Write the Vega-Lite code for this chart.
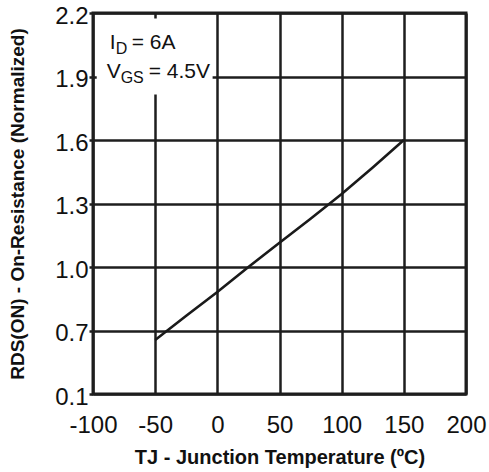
{
  "$schema": "https://vega.github.io/schema/vega-lite/v6.json",
  "width": 373,
  "height": 381,
  "autosize": {"type": "none"},
  "padding": {"left": 93, "top": 13, "right": 23, "bottom": 78},
  "background": "white",
  "config": {
    "font": "Liberation Sans",
    "view": {"stroke": "#1e1e1e", "strokeWidth": 3},
    "axis": {
      "grid": true,
      "gridColor": "#1e1e1e",
      "gridWidth": 2.5,
      "gridOpacity": 1,
      "domain": false,
      "labelFont": "Liberation Sans",
      "labelFontSize": 24,
      "labelColor": "#111",
      "titleFont": "Liberation Sans",
      "titleFontWeight": "bold",
      "titleFontSize": 19,
      "titleColor": "#111"
    },
    "text": {"font": "Liberation Sans", "color": "#111", "align": "left", "baseline": "alphabetic"}
  },
  "layer": [
    {
      "data": {"values": [
        {"t": -50, "r": 0.655}, {"t": -25, "r": 0.77}, {"t": 0, "r": 0.882},
        {"t": 25, "r": 1.0}, {"t": 50, "r": 1.115}, {"t": 75, "r": 1.228},
        {"t": 100, "r": 1.345}, {"t": 125, "r": 1.47}, {"t": 150, "r": 1.6}
      ]},
      "mark": {"type": "line", "color": "#1a1a1a", "strokeWidth": 2.6},
      "encoding": {
        "x": {
          "field": "t", "type": "quantitative",
          "scale": {"domain": [-100, 200], "nice": false, "zero": false},
          "axis": {
            "values": [-100, -50, 0, 50, 100, 150, 200],
            "labelExpr": "'' + datum.value",
            "ticks": false,
            "labelPadding": 19,
            "labelFlush": false,
            "title": "TJ - Junction Temperature (ºC)",
            "titleFontSize": 20,
            "titlePadding": 10
          }
        },
        "y": {
          "field": "r", "type": "quantitative",
          "scale": {"domain": [0.4, 2.2], "nice": false, "zero": false},
          "axis": {
            "values": [0.4, 0.7, 1.0, 1.3, 1.6, 1.9, 2.2],
            "labelExpr": "datum.value < 0.5 ? '0.1' : format(datum.value, '.1f')",
            "tickSize": 4,
            "tickWidth": 2.5,
            "tickColor": "#1e1e1e",
            "labelPadding": 1,
            "labelOffset": 3,
            "labelFlush": false,
            "title": "RDS(ON) - On-Resistance (Normalized)",
            "titlePadding": 27
          }
        }
      }
    },
    {
      "data": {"values": [{"t1": -97, "t2": -3.8, "r1": 1.815, "r2": 2.174}]},
      "mark": {"type": "rect", "color": "white"},
      "encoding": {
        "x": {"field": "t1", "type": "quantitative"},
        "x2": {"field": "t2"},
        "y": {"field": "r1", "type": "quantitative"},
        "y2": {"field": "r2"}
      }
    },
    {
      "data": {"values": [{"t": -86.6, "r": 2.028, "label": "I"}, {"t": -89, "r": 1.895, "label": "V"}]},
      "mark": {"type": "text", "fontSize": 21},
      "encoding": {
        "x": {"field": "t", "type": "quantitative"},
        "y": {"field": "r", "type": "quantitative"},
        "text": {"field": "label"}
      }
    },
    {
      "data": {"values": [{"t": -86.6, "r": 2.028, "label": "D"}]},
      "mark": {"type": "text", "fontSize": 16, "dx": 6, "dy": 5},
      "encoding": {
        "x": {"field": "t", "type": "quantitative"},
        "y": {"field": "r", "type": "quantitative"},
        "text": {"field": "label"}
      }
    },
    {
      "data": {"values": [{"t": -89, "r": 1.895, "label": "GS"}]},
      "mark": {"type": "text", "fontSize": 16, "dx": 14, "dy": 5},
      "encoding": {
        "x": {"field": "t", "type": "quantitative"},
        "y": {"field": "r", "type": "quantitative"},
        "text": {"field": "label"}
      }
    },
    {
      "data": {"values": [{"t": -86.6, "r": 2.028, "label": "= 6A"}]},
      "mark": {"type": "text", "fontSize": 21, "dx": 22},
      "encoding": {
        "x": {"field": "t", "type": "quantitative"},
        "y": {"field": "r", "type": "quantitative"},
        "text": {"field": "label"}
      }
    },
    {
      "data": {"values": [{"t": -89, "r": 1.895, "label": "= 4.5V"}]},
      "mark": {"type": "text", "fontSize": 21, "dx": 42},
      "encoding": {
        "x": {"field": "t", "type": "quantitative"},
        "y": {"field": "r", "type": "quantitative"},
        "text": {"field": "label"}
      }
    }
  ]
}
